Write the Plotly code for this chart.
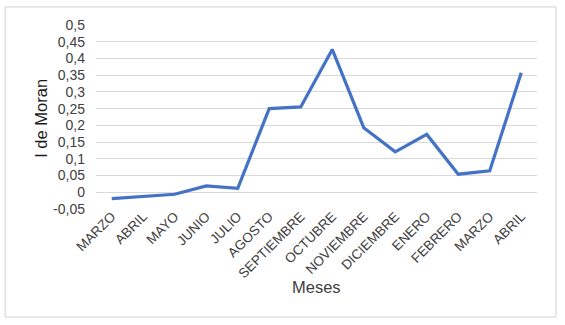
import plotly.graph_objects as go

meses = ["MARZO", "ABRIL", "MAYO", "JUNIO", "JULIO", "AGOSTO", "SEPTIEMBRE",
         "OCTUBRE", "NOVIEMBRE", "DICIEMBRE", "ENERO", "FEBRERO", "MARZO", "ABRIL"]
moran = [-0.019, -0.013, -0.006, 0.019, 0.012, 0.250, 0.255,
         0.427, 0.193, 0.121, 0.173, 0.054, 0.064, 0.357]

tick_vals = [-0.05, 0, 0.05, 0.1, 0.15, 0.2, 0.25, 0.3, 0.35, 0.4, 0.45, 0.5]
tick_text = ["-0,05", "0", "0,05", "0,1", "0,15", "0,2", "0,25", "0,3", "0,35", "0,4", "0,45", "0,5"]

x_idx = list(range(len(meses)))

fig = go.Figure(go.Scatter(
    x=x_idx, y=moran, mode="lines",
    line=dict(color="#4472C4", width=3.2),
))

fig.update_layout(
    width=565, height=325,
    margin=dict(l=96, r=28, t=25, b=116),
    paper_bgcolor="white", plot_bgcolor="white",
    showlegend=False,
    font=dict(family="Liberation Sans, Arial, sans-serif", color="#404040", size=13),
    xaxis=dict(
        tickmode="array", tickvals=x_idx, ticktext=meses,
        range=[-0.5, len(meses) - 0.5],
        tickangle=-45, showgrid=False, zeroline=False, showline=False,
        ticks="", tickfont=dict(size=13.5, color="#404040"), automargin=False,
        ticklabelstandoff=-4,
    ),
    yaxis=dict(
        tickmode="array", tickvals=tick_vals, ticktext=tick_text,
        range=[-0.05, 0.5], showgrid=True, gridcolor="#d9d9d9", gridwidth=1,
        zeroline=False, showline=False, ticks="", automargin=False,
        tickfont=dict(size=14, color="#404040"), ticklabelstandoff=10,
    ),
    annotations=[
        dict(text="Meses", xref="paper", yref="paper", x=0.501, y=-0.424,
             showarrow=False, xanchor="center", yanchor="middle",
             font=dict(size=16.5, color="#404040")),
        dict(text="I de Moran", xref="paper", yref="paper", x=-0.125, y=0.495,
             showarrow=False, xanchor="center", yanchor="middle", textangle=-90,
             font=dict(size=16.5, color="#1a1a1a")),
    ],
    shapes=[dict(type="rect", xref="paper", yref="paper",
                 x0=-0.206, x1=1.043, y0=-0.587, y1=1.098,
                 line=dict(color="#d0d0d0", width=1), fillcolor="rgba(0,0,0,0)")],
)

fig.write_html("out.html", config={"displayModeBar": False},
               post_script="document.body.style.margin='0';")
